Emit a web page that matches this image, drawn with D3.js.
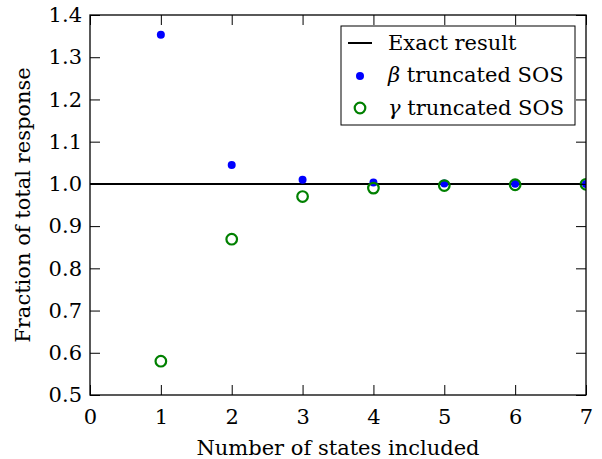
<!DOCTYPE html>
<html>
<head>
<meta charset="utf-8">
<script src="https://cdn.jsdelivr.net/npm/d3@7"></script>
<style>
  body { margin: 0; background: #fff; }
  text { font-family: "DejaVu Serif", serif; fill: #000; }
</style>
</head>
<body>
<svg width="602" height="459"></svg>
<script>
/* --------------- datos --------------- */
const states = [1, 2, 3, 4, 5, 6, 7];
const betaVals = [1.353, 1.045, 1.010, 1.003, 1.001, 1.0005, 1.0];
const gammaVals = [0.580, 0.869, 0.970, 0.990, 0.996, 0.998, 0.999];
const exactVal = 1.0;
const xTicks = [0, 1, 2, 3, 4, 5, 6, 7];
const yTicks = [0.5, 0.6, 0.7, 0.8, 0.9, 1.0, 1.1, 1.2, 1.3, 1.4];
const legendLabels = ["Exact result", "β truncated SOS", "γ truncated SOS"];

/* --------------- grafica --------------- */
const svg = d3.select("svg");
const mLeft = 90, mRight = 586, mTop = 15, mBottom = 395;
const fs = 21;

const x = d3.scaleLinear().domain([0, 7]).range([mLeft, mRight]);
const y = d3.scaleLinear().domain([0.5, 1.4]).range([mBottom, mTop]);

svg.append("defs").append("clipPath").attr("id", "clip")
    .append("rect")
    .attr("x", mLeft).attr("y", mTop)
    .attr("width", mRight - mLeft).attr("height", mBottom - mTop);

const plot = svg.append("g").attr("clip-path", "url(#clip)");

// linea exacta
plot.append("line")
    .attr("x1", x(0)).attr("x2", x(7))
    .attr("y1", y(exactVal)).attr("y2", y(exactVal))
    .attr("stroke", "#000").attr("stroke-width", 2);

// beta
plot.selectAll(".beta")
    .data(states)
    .enter().append("circle")
    .attr("class", "beta")
    .attr("cx", d => x(d))
    .attr("cy", (d, i) => y(betaVals[i]))
    .attr("r", 4)
    .attr("fill", "#0000ff");

// gamma
plot.selectAll(".gamma")
    .data(states)
    .enter().append("circle")
    .attr("class", "gamma")
    .attr("cx", d => x(d))
    .attr("cy", (d, i) => y(gammaVals[i]))
    .attr("r", 5.3)
    .attr("fill", "none")
    .attr("stroke", "#008000")
    .attr("stroke-width", 2.2);

// ejes: ticks hacia adentro en los cuatro lados
const tl = 10;
const xAxisB = d3.axisBottom(x).tickValues(xTicks).tickFormat(d3.format("d")).tickSizeInner(-tl).tickSizeOuter(0).tickPadding(14);
const xAxisT = d3.axisTop(x).tickValues(xTicks).tickFormat("").tickSizeInner(-tl).tickSizeOuter(0);
const yAxisL = d3.axisLeft(y).tickValues(yTicks).tickFormat(d3.format(".1f")).tickSizeInner(-tl).tickSizeOuter(0).tickPadding(8);
const yAxisR = d3.axisRight(y).tickValues(yTicks).tickFormat("").tickSizeInner(-tl).tickSizeOuter(0);

function styleAxis(g) {
    g.select(".domain").remove();
    g.selectAll("line").attr("stroke", "#000").attr("stroke-width", 1);
    g.selectAll("text").style("font-family", "DejaVu Serif").style("font-size", fs + "px").attr("fill", "#000");
}

svg.append("g").attr("transform", `translate(0,${mBottom})`).call(xAxisB).call(styleAxis);
svg.append("g").attr("transform", `translate(0,${mTop})`).call(xAxisT).call(styleAxis);
svg.append("g").attr("transform", `translate(${mLeft},0)`).call(yAxisL).call(styleAxis);
svg.append("g").attr("transform", `translate(${mRight},0)`).call(yAxisR).call(styleAxis);

// marco
svg.append("rect")
    .attr("x", mLeft).attr("y", mTop)
    .attr("width", mRight - mLeft).attr("height", mBottom - mTop)
    .attr("fill", "none").attr("stroke", "#000").attr("stroke-width", 1.3);

// etiquetas
svg.append("text")
    .attr("x", (mLeft + mRight) / 2).attr("y", 455)
    .attr("text-anchor", "middle")
    .style("font-size", fs + "px")
    .text("Number of states included");

svg.append("text")
    .attr("transform", `translate(30,${(mTop + mBottom) / 2}) rotate(-90)`)
    .attr("text-anchor", "middle")
    .style("font-size", fs + "px")
    .text("Fraction of total response");

// leyenda
const lg = svg.append("g");
lg.append("rect")
    .attr("x", 341).attr("y", 26)
    .attr("width", 234).attr("height", 99)
    .attr("fill", "#fff").attr("stroke", "#000").attr("stroke-width", 1);

const rowY = [43, 75, 108];
lg.append("line")
    .attr("x1", 348).attr("x2", 372)
    .attr("y1", rowY[0]).attr("y2", rowY[0])
    .attr("stroke", "#000").attr("stroke-width", 2);
lg.append("circle").attr("cx", 360).attr("cy", rowY[1] + 1).attr("r", 4).attr("fill", "#0000ff");
lg.append("circle").attr("cx", 360).attr("cy", rowY[2]).attr("r", 5.3)
    .attr("fill", "none").attr("stroke", "#008000").attr("stroke-width", 2.2);

lg.selectAll(".ltxt")
    .data(legendLabels)
    .enter().append("text")
    .attr("class", "ltxt")
    .attr("x", 388)
    .attr("y", (d, i) => rowY[i])
    .attr("dy", "0.35em")
    .style("font-size", fs + "px")
    .each(function(d) {
        const t = d3.select(this);
        if (d[0] === "β" || d[0] === "γ") {
            t.append("tspan").style("font-style", "italic").text(d[0]);
            t.append("tspan").text(d.slice(1));
        } else {
            t.text(d);
        }
    });
</script>
</body>
</html>
